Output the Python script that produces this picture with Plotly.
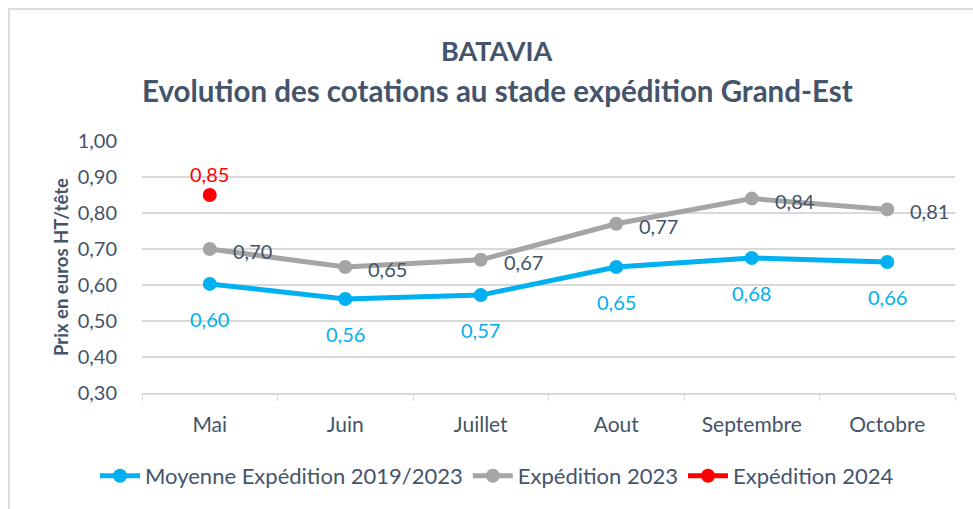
import plotly.graph_objects as go

months = ["Mai", "Juin", "Juillet", "Aout", "Septembre", "Octobre"]
moyenne_2019_2023 = [0.603, 0.561, 0.572, 0.650, 0.675, 0.664]
moyenne_labels = ["0,60", "0,56", "0,57", "0,65", "0,68", "0,66"]
exp_2023 = [0.70, 0.65, 0.67, 0.77, 0.84, 0.81]
exp_2023_labels = ["0,70", "0,65", "0,67", "0,77", "0,84", "0,81"]
exp_2024 = [0.85]
exp_2024_labels = ["0,85"]
y_ticks = [0.3, 0.4, 0.5, 0.6, 0.7, 0.8, 0.9, 1.0]
y_ticklabels = ["0,30", "0,40", "0,50", "0,60", "0,70", "0,80", "0,90", "1,00"]

BLUE = "#00B0F0"
GRAY = "#A5A5A5"
RED = "#FF0000"
TXT = "#44546A"
FONT = "Lato"

W, H = 973, 509
L, R, T, B = 142, 18, 141, 116

fig = go.Figure()
fig.add_trace(go.Scatter(x=months, y=moyenne_2019_2023, mode="lines+markers",
                         name="Moyenne Expédition 2019/2023",
                         line=dict(color=BLUE, width=5), marker=dict(size=14, color=BLUE)))
fig.add_trace(go.Scatter(x=months, y=exp_2023, mode="lines+markers",
                         name="Expédition 2023",
                         line=dict(color=GRAY, width=5), marker=dict(size=14, color=GRAY)))
fig.add_trace(go.Scatter(x=months[:len(exp_2024)], y=exp_2024, mode="lines+markers",
                         name="Expédition 2024",
                         line=dict(color=RED, width=5), marker=dict(size=14, color=RED)))

ann = []
for m, v, t in zip(months, moyenne_2019_2023, moyenne_labels):
    ann.append(dict(x=m, y=v, xref="x", yref="y", text=t, showarrow=False,
                    xanchor="center", yanchor="middle",
                    yshift=-35, font=dict(color=BLUE, size=20, family=FONT)))
for m, v, t in zip(months, exp_2023, exp_2023_labels):
    ann.append(dict(x=m, y=v, xref="x", yref="y", text=t, showarrow=False,
                    xanchor="left", yanchor="middle", xshift=21, yshift=-2,
                    font=dict(color=TXT, size=20, family=FONT)))
for m, v, t in zip(months, exp_2024, exp_2024_labels):
    ann.append(dict(x=m, y=v, xref="x", yref="y", text=t, showarrow=False,
                    xanchor="center", yanchor="middle",
                    yshift=21, font=dict(color=RED, size=20, family=FONT)))

def px_x(px):
    return (px - L) / (W - L - R)

def px_y(py):
    return (H - B - py) / (H - T - B)

ann.append(dict(x=px_x(497), y=px_y(51), xref="paper", yref="paper", text="<b>BATAVIA</b>",
                xanchor="center", yanchor="middle",
                showarrow=False, font=dict(color=TXT, size=27, family=FONT)))
ann.append(dict(x=px_x(497), y=px_y(90), xref="paper", yref="paper",
                text="<b>Evolution des cotations au stade expédition Grand-Est</b>",
                xanchor="center", yanchor="middle",
                showarrow=False, font=dict(color=TXT, size=29.5, family=FONT)))
ann.append(dict(x=px_x(61), y=px_y(267), xref="paper", yref="paper",
                text="<b>Prix en euros HT/tête</b>", textangle=-90,
                xanchor="center", yanchor="middle",
                showarrow=False, font=dict(color=TXT, size=18.5, family=FONT)))

fig.update_layout(
    width=W, height=H,
    margin=dict(l=L, r=R, t=T, b=B),
    paper_bgcolor="white", plot_bgcolor="white",
    font=dict(family=FONT, color=TXT, size=20),
    showlegend=True,
    legend=dict(orientation="h", x=px_x(497), xanchor="center", y=px_y(476), yanchor="middle",
                font=dict(size=22, color=TXT, family=FONT), itemwidth=40,
                bgcolor="rgba(0,0,0,0)"),
    annotations=ann,
    shapes=[dict(type="rect", xref="paper", yref="paper",
                 x0=px_x(9), x1=px_x(985), y0=px_y(520), y1=px_y(9),
                 line=dict(color="#D9DDE3", width=2), fillcolor="rgba(0,0,0,0)", layer="below")],
)
fig.update_xaxes(type="category", range=[-0.5, 5.5], showgrid=False,
                 showline=True, linecolor="#D9D9D9", linewidth=2,
                 ticks="outside", tickson="boundaries", ticklen=6, tickcolor="#D9D9D9",
                 tickfont=dict(size=21, color=TXT, family=FONT), ticklabelstandoff=12)
fig.update_yaxes(range=[0.3, 1.0], tickvals=y_ticks, ticktext=y_ticklabels,
                 showgrid=True, gridcolor="#D9D9D9", gridwidth=2, zeroline=False,
                 showline=False, ticks="",
                 tickfont=dict(size=20, color=TXT, family=FONT), ticklabelstandoff=24)

fig.write_html("out.html", config={"displayModeBar": False},
               post_script="document.body.style.margin='0px';")
